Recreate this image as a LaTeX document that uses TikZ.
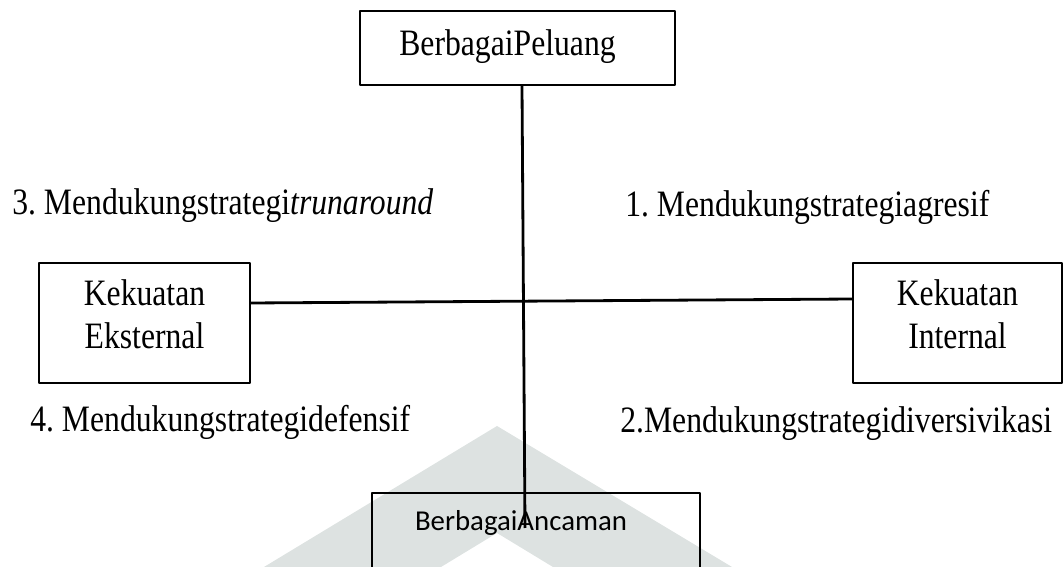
\documentclass[tikz,border=0pt]{standalone}
\usepackage{fontspec}
\setmainfont{Liberation Serif}[FakeStretch=0.85]
\newfontfamily\carlito{Carlito}
\definecolor{filigrane}{RGB}{221,226,225}
\frenchspacing

\begin{document}
\begin{tikzpicture}[x=0.02cm, y=-0.02cm, line join=round,
        every node/.style={font=\fontsize{21.2}{24.4}\selectfont},
        kotak/.style={draw=black, line width=1.1pt, inner sep=0pt},
        garis/.style={draw=black, line width=1.6pt},
        teks/.style={anchor=base west, inner sep=0pt}]
    \useasboundingbox (0,0) rectangle (1063,567);
    \clip (0,0) rectangle (1063,567);

    \path[fill=filigrane] (497,426) -- (732,567) -- (553,567) -- (497,533)
        -- (441,567) -- (264,567) -- cycle;

    \node[kotak, anchor=north, minimum width=6.3cm, text height=0.9cm, text depth=0.58cm]
        (peluang) at (517.5,10) {BerbagaiPeluang\rule{0.4cm}{0pt}};
    \node[kotak, minimum width=4.22cm, minimum height=2.4cm, align=center]
        (eksternal) at (144.5,323) {Kekuatan\\Eksternal\rule[-0.34cm]{0pt}{0pt}};
    \node[kotak, minimum width=4.18cm, minimum height=2.4cm, align=center]
        (internal) at (957.5,323) {Kekuatan\\Internal\rule[-0.34cm]{0pt}{0pt}};
    \node[kotak, anchor=north, minimum width=6.56cm, text height=0.76cm, text depth=2cm,
        font=\carlito\fontsize{16.4}{19.7}\selectfont]
        (ancaman) at (536,492) {BerbagaiAncaman\rule{0.6cm}{0pt}};

    \node[teks] (strategi3) at (12,215) {3. Mendukungstrategi\textit{trunaround}};
    \node[teks] (strategi1) at (625,217) {1. Mendukungstrategiagresif};
    \node[teks] (strategi4) at (30,432) {4. Mendukungstrategidefensif};
    \node[teks] (strategi2) at (620,433) {2.Mendukungstrategidiversivikasi};

    \coordinate (ujung) at (525,528);
    \path[garis] ([xshift=0.09cm]peluang.south) -- (ujung);
    \path[garis] ([yshift=0.4cm]eksternal.east) -- ([yshift=0.48cm]internal.west);
\end{tikzpicture}
\end{document}
